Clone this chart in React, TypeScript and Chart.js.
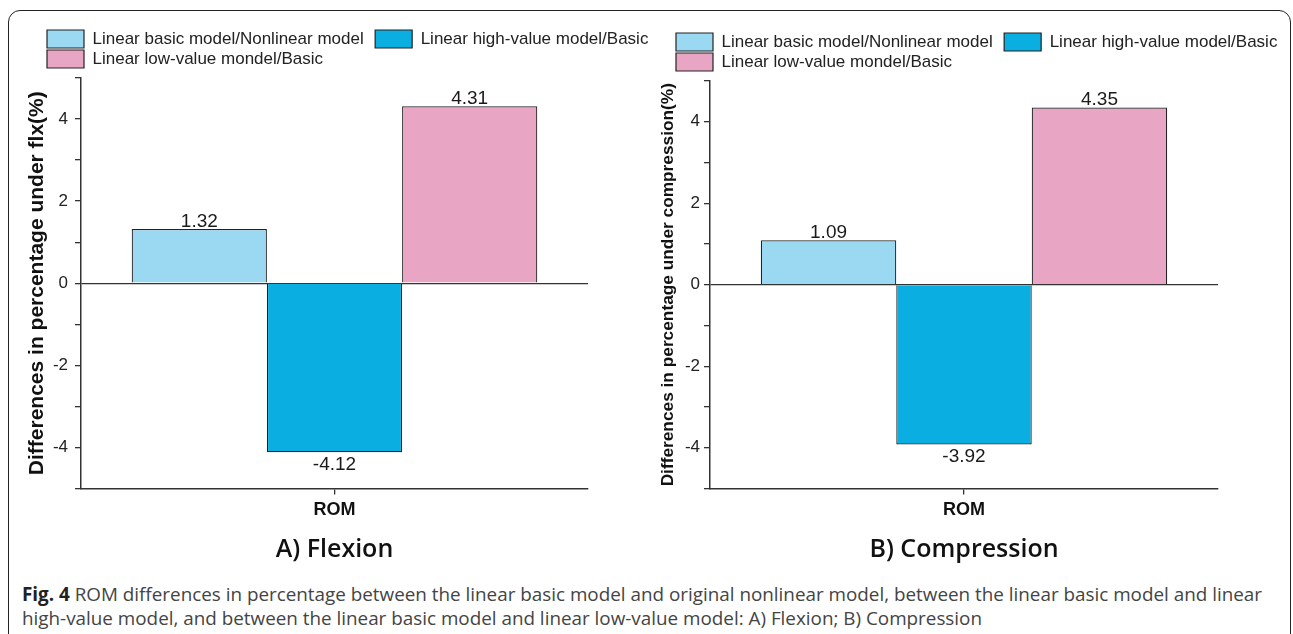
import React, { useEffect, useRef } from 'react';
import { Chart, registerables } from 'chart.js';

Chart.register(...registerables);
Chart.defaults.font.family = '"Liberation Sans", Arial, sans-serif';
Chart.defaults.color = '#222';

// ---- data ----
const categories = ['ROM'];
const seriesNames = [
  'Linear basic model/Nonlinear model',
  'Linear high-value model/Basic',
  'Linear low-value mondel/Basic',
];
const flexionValues = [1.32, -4.12, 4.31];
const compressionValues = [1.09, -3.92, 4.35];
const seriesColors = ['#9BD9F3', '#0AAEE0', '#E9A6C4'];
const yMin = -5;
const yMax = 5;
const yStep = 1;
const yLabelStep = 2;
const panelTitles = ['A) Flexion', 'B) Compression'];
const yTitles = [
  'Differences in percentage under flx(%)',
  'Differences in percentage under compression(%)',
];
const captionBold = 'Fig. 4';
const captionLine1 =
  ' ROM differences in percentage between the linear basic model and original nonlinear model, between the linear basic model and linear';
const captionLine2 =
  'high-value model, and between the linear basic model and linear low-value model: A) Flexion; B) Compression';

// ---- plugins ----
const legendShift = {
  id: 'legendShift',
  afterLayout(chart: any, _args: any, opts: any) {
    const lg = chart.legend;
    if (!lg) return;
    const dx = (opts && opts.dx) || 0;
    lg.left += dx;
    lg.right += dx;
  },
};

const valueLabels = {
  id: 'valueLabels',
  afterDatasetsDraw(chart: any) {
    const ctx = chart.ctx;
    ctx.save();
    ctx.font = '19px "Liberation Sans", Arial, sans-serif';
    ctx.fillStyle = '#1a1a1a';
    ctx.textAlign = 'center';
    chart.data.datasets.forEach((ds: any, i: number) => {
      const meta = chart.getDatasetMeta(i);
      meta.data.forEach((bar: any, j: number) => {
        const v = ds.data[j] as number;
        const txt = v.toFixed(2);
        if (v >= 0) {
          ctx.textBaseline = 'alphabetic';
          ctx.fillText(txt, bar.x, bar.y - 2);
        } else {
          ctx.textBaseline = 'top';
          ctx.fillText(txt, bar.x, bar.y + 3);
        }
      });
    });
    ctx.restore();
  },
};

type PanelOpts = {
  values: number[];
  yTitle: string;
  title: string;
  yWidth: number;
  rightWidth: number;
  yTitleSize: number;
  yTitlePad: number;
  tickPad: number;
  legendDx: number;
  padTop: number;
};

function makeConfig(p: PanelOpts): any {
  return {
    type: 'bar',
    data: {
      labels: categories,
      datasets: seriesNames.map((name, i) => ({
        label: name,
        data: [p.values[i]],
        backgroundColor: seriesColors[i],
        borderColor: '#222',
        borderWidth: 1.2,
        categoryPercentage: 0.8,
        barPercentage: 1.0,
        yAxisID: 'y',
      })),
    },
    options: {
      responsive: false,
      animation: false,
      events: [],
      layout: { padding: { top: p.padTop, left: 0, right: 0, bottom: 0 } },
      plugins: {
        legendShift: { dx: p.legendDx },
        tooltip: { enabled: false },
        legend: {
          display: true,
          position: 'top',
          align: 'start',
          labels: {
            boxWidth: 37,
            boxHeight: 18,
            padding: 2,
            font: { size: 17 },
            color: '#222',
            generateLabels: (chart: any) => {
              const items = Chart.defaults.plugins.legend.labels.generateLabels(chart);
              if (items[0]) items[0].text = items[0].text + '  ';
              return items;
            },
          },
        },
        title: {
          display: true,
          text: p.title,
          position: 'bottom',
          fullSize: false,
          font: { family: '"Open Sans", "Noto Sans", sans-serif', size: 25, weight: 600 },
          color: '#111',
          padding: { top: 9, bottom: 0 },
        },
      },
      scales: {
        x: {
          type: 'category',
          offset: true,
          grid: {
            display: true,
            drawOnChartArea: false,
            drawTicks: true,
            tickLength: 6,
            offset: false,
            color: '#333',
            tickColor: '#333',
            lineWidth: 1.3,
          },
          border: { display: true, color: '#333', width: 1.5 },
          ticks: { font: { size: 18, weight: 'bold' }, color: '#111', padding: 5, maxRotation: 0 },
        },
        y: {
          type: 'linear',
          position: 'left',
          min: yMin,
          max: yMax,
          afterFit: (s: any) => {
            s.width = p.yWidth;
          },
          ticks: {
            stepSize: yStep,
            autoSkip: false,
            padding: p.tickPad,
            font: { size: 17 },
            color: '#222',
            callback: (v: any) => (Number(v) % yLabelStep === 0 ? String(v) : ''),
          },
          grid: {
            display: true,
            drawOnChartArea: true,
            drawTicks: true,
            tickLength: 6,
            color: (c: any) => (c.tick && c.tick.value === 0 ? '#333' : 'rgba(0,0,0,0)'),
            tickColor: '#333',
            lineWidth: 1.3,
          },
          border: { display: true, color: '#333', width: 1.5 },
          title: {
            display: true,
            text: p.yTitle,
            font: { size: p.yTitleSize, weight: 'bold' },
            color: '#111',
            padding: { top: p.yTitlePad, bottom: 0 },
          },
        },
        yR: {
          type: 'linear',
          position: 'right',
          display: true,
          min: yMin,
          max: yMax,
          grid: { display: false, drawTicks: false },
          border: { display: false },
          ticks: { display: false },
          afterFit: (s: any) => {
            s.width = p.rightWidth;
          },
        },
      },
    },
    plugins: [legendShift, valueLabels],
  };
}

function Panel(props: { opts: PanelOpts; left: number; top: number; width: number; height: number }) {
  const ref = useRef<HTMLCanvasElement | null>(null);
  useEffect(() => {
    if (!ref.current) return;
    const chart = new Chart(ref.current, makeConfig(props.opts));
    return () => chart.destroy();
  }, []);
  return (
    <canvas
      ref={ref}
      width={props.width}
      height={props.height}
      style={{
        position: 'absolute',
        left: props.left,
        top: props.top,
        width: props.width,
        height: props.height,
      }}
    />
  );
}

export default function App() {
  return (
    <div
      style={{
        position: 'fixed',
        left: 0,
        top: 0,
        width: 1293,
        height: 634,
        overflow: 'hidden',
        background: '#fff',
      }}
    >
      <div
        style={{
          position: 'absolute',
          left: 8,
          top: 10,
          width: 1283,
          height: 720,
          boxSizing: 'border-box',
          border: '1.5px solid #222',
          borderRadius: 12,
        }}
      />
      <Panel
        left={20}
        top={0}
        width={635}
        height={565}
        opts={{
          values: flexionValues,
          yTitle: yTitles[0],
          title: panelTitles[0],
          yWidth: 61,
          rightWidth: 67,
          yTitleSize: 21,
          yTitlePad: 5,
          tickPad: 7,
          legendDx: 25,
          padTop: 28,
        }}
      />
      <Panel
        left={655}
        top={0}
        width={638}
        height={565}
        opts={{
          values: compressionValues,
          yTitle: yTitles[1],
          title: panelTitles[1],
          yWidth: 55,
          rightWidth: 75,
          yTitleSize: 17.3,
          yTitlePad: 3,
          tickPad: 4,
          legendDx: 19,
          padTop: 31,
        }}
      />
      <div
        style={{
          position: 'absolute',
          left: 22,
          top: 582,
          fontFamily: '"Open Sans", "Noto Sans", sans-serif',
          fontSize: 18.85,
          lineHeight: '24px',
          color: '#444',
          whiteSpace: 'nowrap',
        }}
      >
        <div>
          <b style={{ color: '#222' }}>{captionBold}</b>
          {captionLine1}
        </div>
        <div>{captionLine2}</div>
      </div>
    </div>
  );
}
